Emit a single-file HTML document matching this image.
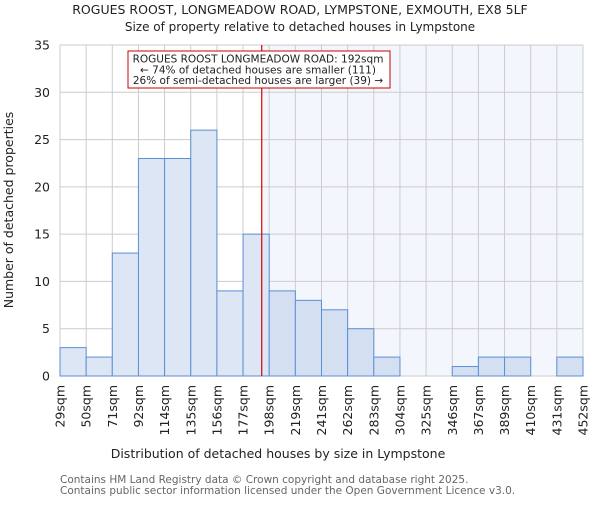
<!DOCTYPE html>
<html><head><meta charset="utf-8"><style>
body{margin:0;background:#fff}
svg{font-family:"DejaVu Sans","Liberation Sans",sans-serif}
</style></head><body>
<svg id="c" width="600" height="500" viewBox="0 0 600 500" xmlns="http://www.w3.org/2000/svg">
<text x="300" y="14" text-anchor="middle" font-size="12.5" fill="#222">ROGUES ROOST, LONGMEADOW ROAD, LYMPSTONE, EXMOUTH, EX8 5LF</text>
<text x="300" y="31" text-anchor="middle" font-size="12" fill="#222">Size of property relative to detached houses in Lympstone</text>
<g id="plot"></g>
<text x="278" y="458" text-anchor="middle" font-size="12.5" fill="#222">Distribution of detached houses by size in Lympstone</text>
<text transform="translate(13,210) rotate(-90)" text-anchor="middle" font-size="12.5" fill="#222">Number of detached properties</text>
<text x="60" y="483" font-size="10.5" fill="#666">Contains HM Land Registry data © Crown copyright and database right 2025.</text>
<text x="60" y="494" font-size="10.5" fill="#666">Contains public sector information licensed under the Open Government Licence v3.0.</text>
</svg>
<script>
const binLabels=["29sqm","50sqm","71sqm","92sqm","114sqm","135sqm","156sqm","177sqm","198sqm","219sqm","241sqm","262sqm","283sqm","304sqm","325sqm","346sqm","367sqm","389sqm","410sqm","431sqm","452sqm"];
const binStarts=[29,50,71,92,114,135,156,177,198,219,241,262,283,304,325,346,367,389,410,431,452];
const counts=[3,2,13,23,23,26,9,15,9,8,7,5,2,0,0,1,2,2,0,2];
const yTicks=[0,5,10,15,20,25,30,35];
const propertySize=192;
const annotationLines=["ROGUES ROOST LONGMEADOW ROAD: 192sqm","← 74% of detached houses are smaller (111)","26% of semi-detached houses are larger (39) →"];

const L=60,R=583,T=45,B=376,NS="http://www.w3.org/2000/svg";
const nb=counts.length, bw=(R-L)/nb;
const y=v=>B-(v/35)*(B-T);
const xi=i=>L+i*bw;
function xv(v){for(let i=0;i<nb;i++){if(v>=binStarts[i]&&v<=binStarts[i+1])return xi(i)+(v-binStarts[i])/(binStarts[i+1]-binStarts[i])*bw;}return R;}
const g=document.getElementById('plot');
function mk(t,a){const e=document.createElementNS(NS,t);for(const k in a)e.setAttribute(k,a[k]);g.appendChild(e);return e;}
const px=xv(propertySize);
let e=mk('rect',{x:px,y:T,width:R-px,height:B-T,fill:'#f3f6fd'});


for(let i=0;i<=nb;i++){e=mk('line',{x1:xi(i),x2:xi(i),y1:T,y2:B,stroke:'#ccc','stroke-width':1});

}
yTicks.forEach(t=>{e=mk('line',{x1:L,x2:R,y1:y(t),y2:y(t),stroke:'#ccc','stroke-width':1});


e=mk('text',{x:L-10,y:y(t)+4.5,'text-anchor':'end','font-size':12.5,fill:'#222'});e.textContent=t;

});
counts.forEach((c,i)=>{if(c<=0)return;const right=xi(i)+bw/2>px;
e=mk('rect',{x:xi(i),y:y(c),width:bw,height:B-y(c),fill:right?'#d4e0f2':'#dce6f4',stroke:'#5b8fd6','stroke-width':1});

});
binLabels.forEach((l,i)=>{const x=xi(i);e=mk('text',{transform:`translate(${x+4.5},385) rotate(-90)`,'text-anchor':'end','font-size':12.5,fill:'#222'});e.textContent=l;

});
e=mk('line',{x1:px,x2:px,y1:T,y2:B,stroke:'#d00','stroke-width':1.2});


e=mk('rect',{x:128,y:51,width:262,height:37,fill:'#fff',stroke:'#c00','stroke-width':1});


annotationLines.forEach((l,k)=>{e=mk('text',{x:258,y:62.5+k*10.8,'text-anchor':'middle','font-size':10.5,fill:'#222'});e.textContent=l;

});
</script>
</body></html>
